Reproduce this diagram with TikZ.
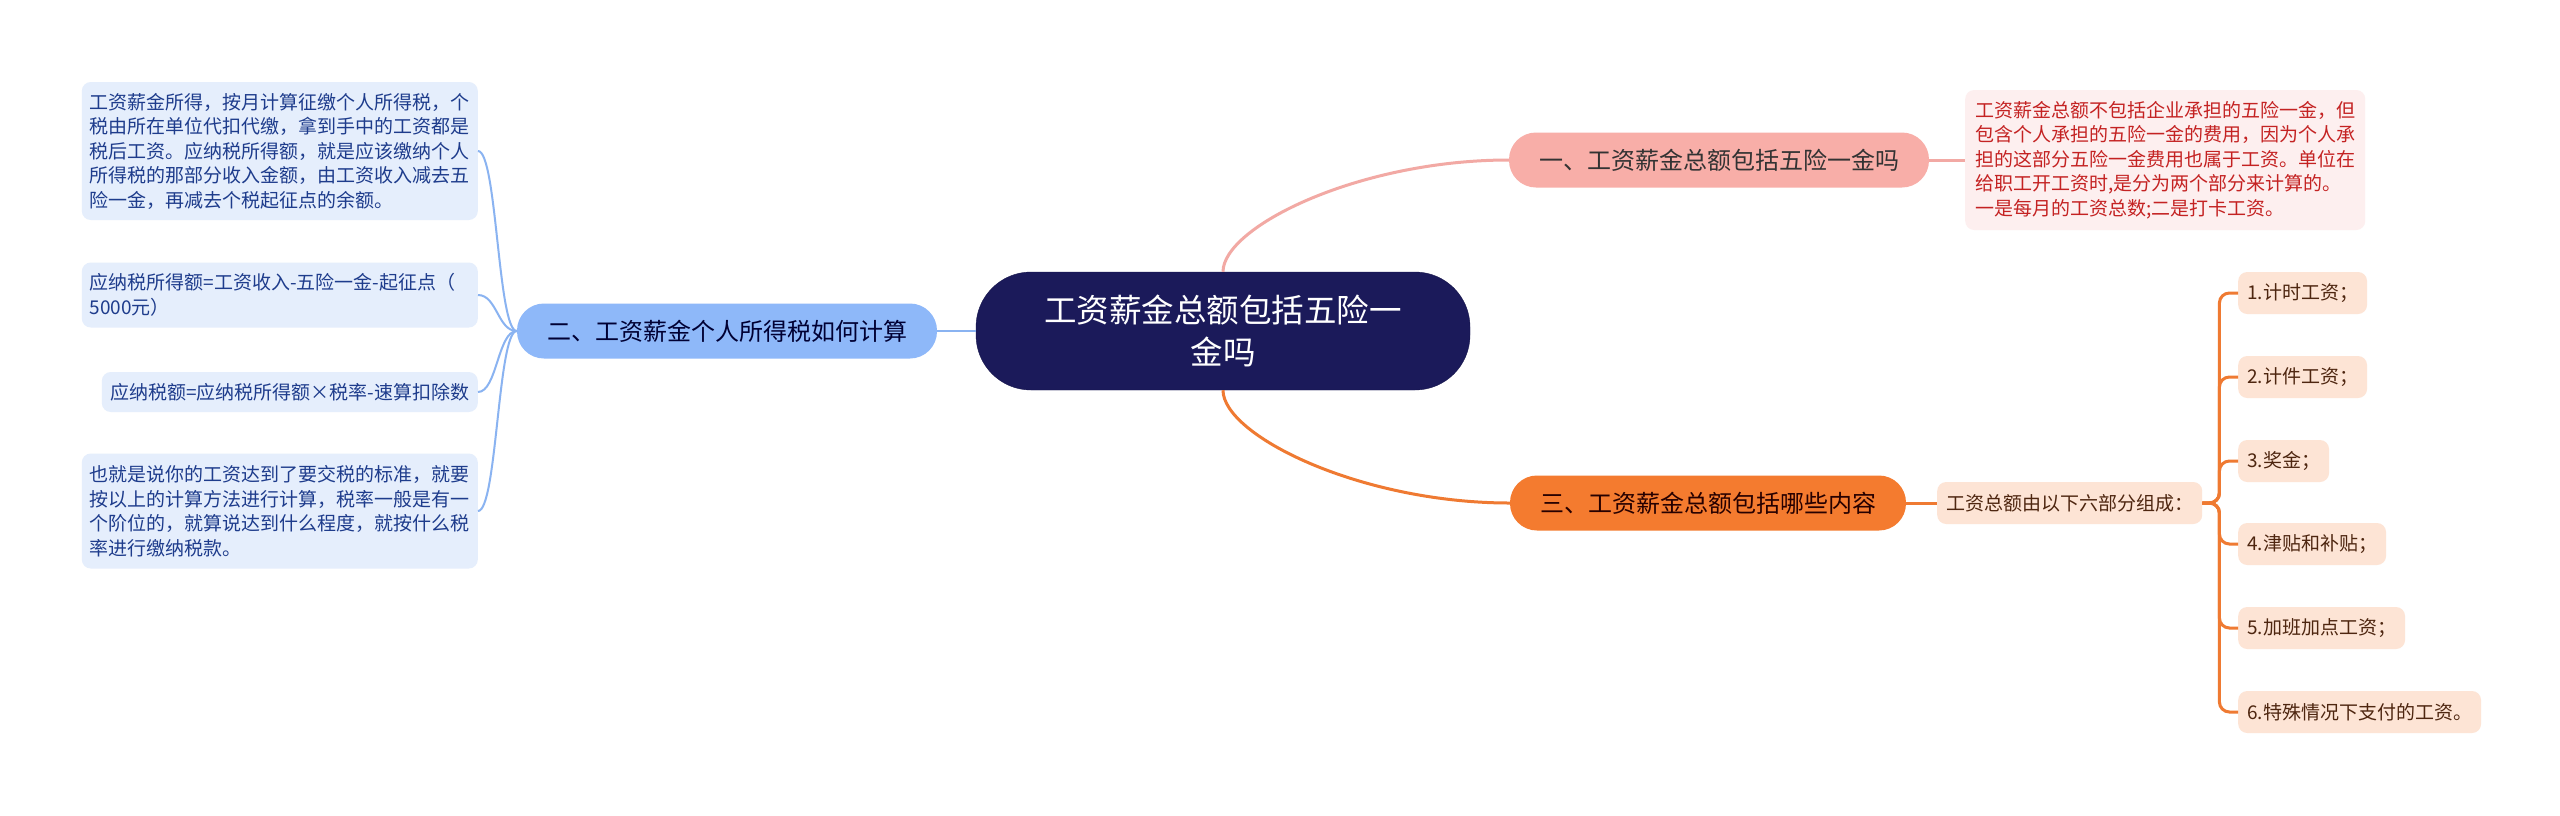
\documentclass[tikz,border=0pt]{standalone}
\usepackage{fontspec}
\setmainfont{Noto Sans CJK SC}
\usepackage{tikz}

\definecolor{navy}{HTML}{1B1A5A}
\definecolor{rosefill}{HTML}{F8AEA8}
\definecolor{roseline}{HTML}{F2A9A4}
\definecolor{rosebox}{HTML}{FDEFEF}
\definecolor{rosetext}{HTML}{C42222}
\definecolor{skyfill}{HTML}{8EB8F9}
\definecolor{skyline}{HTML}{8AB3F1}
\definecolor{skybox}{HTML}{E5EEFC}
\definecolor{skytext}{HTML}{1E3C8C}
\definecolor{amberfill}{HTML}{F47B2F}
\definecolor{amberline}{HTML}{EF7A32}
\definecolor{amberbox}{HTML}{FDE4D5}
\definecolor{ambertext}{HTML}{4E2610}

\tikzset{
  topic/.style={fill=navy, draw=navy!85!black, text=white, rounded corners=55pt,
    minimum width=494pt, minimum height=118pt, align=center,
    font=\fontsize{32.5}{42}\selectfont},
  branch/.style={rounded corners=27pt, minimum height=55pt, inner xsep=30pt,
    font=\fontsize{24}{30}\selectfont},
  note/.style={rounded corners=9pt, inner xsep=8pt, align=left,
    font=\fontsize{19}{24.5}\selectfont},
  twig/.style={fill=amberbox, text=ambertext, rounded corners=9pt, inner xsep=9pt,
    minimum height=42pt, font=\fontsize{19}{24.5}\selectfont},
}

\begin{document}
\begin{tikzpicture}[x=1pt, y=-1pt]
    \fill[white] (0,0) rectangle (2560,815);
    \useasboundingbox (0,0) rectangle (2560,815);
    \node[topic] (main) at (1223,331) {工资薪金总额包括五险一\\金吗};
    \node[branch, fill=rosefill, text=black!80] (one) at (1719,160) {一、工资薪金总额包括五险一金吗};
    \node[branch, fill=skyfill, text=black!80!blue] (two) at (727,331) {二、工资薪金个人所得税如何计算};
    \node[branch, fill=amberfill, text=black!85!red] (three) at (1708,503) {三、工资薪金总额包括哪些内容};
    \node[note, fill=rosebox, text=rosetext, inner xsep=10pt, minimum width=400pt, minimum height=140pt, anchor=west] (onenote) at (1965,160)
      {工资薪金总额不包括企业承担的五险一金，但\\包含个人承担的五险一金的费用，因为个人承\\担的这部分五险一金费用也属于工资。单位在\\给职工开工资时,是分为两个部分来计算的。\\一是每月的工资总数;二是打卡工资。};
    \node[note, fill=skybox, text=skytext, minimum width=396pt, minimum height=138pt, anchor=east] (twoa) at (478,151)
      {工资薪金所得，按月计算征缴个人所得税，个\\税由所在单位代扣代缴，拿到手中的工资都是\\税后工资。应纳税所得额，就是应该缴纳个人\\所得税的那部分收入金额，由工资收入减去五\\险一金，再减去个税起征点的余额。};
    \node[note, fill=skybox, text=skytext, text width=380pt, minimum width=396pt, minimum height=65pt, anchor=east] (twob) at (478,295)
      {应纳税所得额=工资收入-五险一金-起征点（\\5000元）};
    \node[note, fill=skybox, text=skytext, minimum width=376pt, minimum height=40pt, anchor=east] (twoc) at (478,392)
      {应纳税额=应纳税所得额×税率-速算扣除数};
    \node[note, fill=skybox, text=skytext, minimum width=396pt, minimum height=115pt, anchor=east] (twod) at (478,511)
      {也就是说你的工资达到了要交税的标准，就要\\按以上的计算方法进行计算，税率一般是有一\\个阶位的，就算说达到什么程度，就按什么税\\率进行缴纳税款。};
    \node[twig, anchor=west] (sum) at (1937,503) {工资总额由以下六部分组成：};
    \foreach \y/\name/\txt in {293/part1/1.计时工资；, 377/part2/2.计件工资；, 461/part3/3.奖金；,
        544/part4/4.津贴和补贴；, 628/part5/5.加班加点工资；, 712/part6/6.特殊情况下支付的工资。}
      \node[twig, anchor=west] (\name) at (2238,\y) {\txt};

    \draw[roseline, line width=3pt] (main.north) .. controls +(0,-45) and +(-150,0) .. (one.west);
    \draw[amberline, line width=3pt] (main.south) .. controls +(0,45) and +(-150,0) .. (three.west);
    \draw[skyline, line width=2.5pt] (main.west) -- (two.east);
    \draw[roseline, line width=3pt] (one.east) -- (onenote.west);
    \draw[amberline, line width=3pt] (three.east) -- (sum.west);
    \foreach \leaf in {twoa, twob, twoc, twod}
      \draw[skyline, line width=2pt] (two.west) .. controls +(-19,0) and +(19,0) .. (\leaf.east);
    \foreach \leaf in {part1, part2, part3, part4, part5, part6}
      \draw[amberline, line width=3pt, rounded corners=10pt] (sum.east) -- ++(17,0) |- (\leaf.west);
  \end{tikzpicture}
\end{document}
